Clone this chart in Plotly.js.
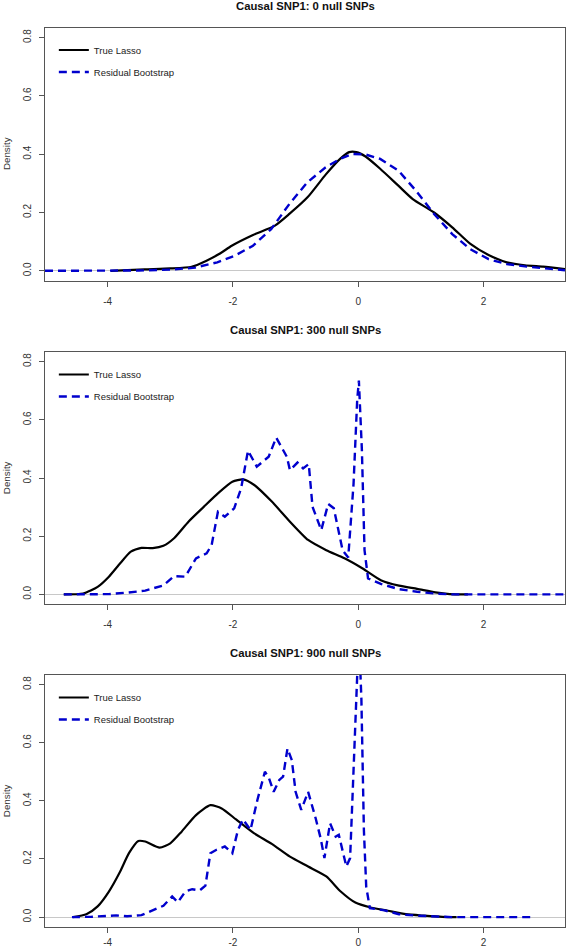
<!DOCTYPE html>
<html>
<head>
<meta charset="utf-8">
<script src="https://cdn.plot.ly/plotly-3.0.1.min.js"></script>
<style>html,body{margin:0;padding:0;background:#fff;}#chart{width:567px;height:949px;}</style>
</head>
<body>
<div id="chart"></div>
<script>
// ---------- data ----------
const panelTitles = ["Causal SNP1: 0 null SNPs", "Causal SNP1: 300 null SNPs", "Causal SNP1: 900 null SNPs"];
const seriesNames = ["True Lasso", "Residual Bootstrap"];
const xTickVals = [-4, -2, 0, 2];
const yTickVals = [0.0, 0.2, 0.4, 0.6, 0.8];

// Panel 1: 0 null SNPs
const p1TrueX = [-3.95,-3.41,-3.0,-2.66,-2.43,-2.2,-2.02,-1.68,-1.33,-1.10,-0.81,-0.52,-0.29,-0.145,-0.03,0.116,0.35,0.64,0.87,1.21,1.50,1.79,2.08,2.37,2.66,2.95,3.3];
const p1TrueY = [0.000,0.005,0.008,0.014,0.034,0.060,0.086,0.123,0.155,0.195,0.252,0.330,0.384,0.407,0.407,0.392,0.350,0.292,0.246,0.200,0.149,0.092,0.054,0.029,0.019,0.014,0.006];
const p1BootX = [-5.0,-4.0,-3.5,-3.0,-2.6,-2.25,-1.97,-1.68,-1.39,-1.10,-0.81,-0.52,-0.29,-0.09,0.116,0.35,0.64,0.92,1.21,1.50,1.79,2.08,2.37,2.66,2.95,3.3];
const p1BootY = [0.000,0.000,0.001,0.004,0.011,0.029,0.052,0.086,0.143,0.229,0.304,0.355,0.384,0.401,0.399,0.384,0.344,0.275,0.195,0.126,0.074,0.040,0.023,0.015,0.008,0.002];

// Panel 2: 300 null SNPs
const p2TrueX = [-4.7,-4.39,-4.16,-3.98,-3.80,-3.63,-3.46,-3.28,-3.11,-2.94,-2.71,-2.47,-2.24,-2.01,-1.84,-1.66,-1.38,-1.09,-0.80,-0.51,-0.22,0.07,0.36,0.65,0.94,1.23,1.46,1.75];
const p2TrueY = [0.000,0.003,0.026,0.061,0.107,0.147,0.160,0.159,0.167,0.193,0.250,0.300,0.347,0.387,0.395,0.376,0.319,0.250,0.187,0.152,0.124,0.089,0.049,0.030,0.019,0.007,0.001,0.000];
const p2BootX = [-4.7,-3.98,-3.69,-3.40,-3.11,-2.94,-2.76,-2.59,-2.42,-2.34,-2.24,-2.13,-1.98,-1.87,-1.76,-1.62,-1.43,-1.31,-1.14,-1.09,-0.97,-0.88,-0.79,-0.73,-0.59,-0.48,-0.39,-0.25,-0.16,-0.075,-0.017,0.01,0.058,0.10,0.156,0.36,0.65,0.94,1.23,1.5,3.3];
const p2BootY = [0.000,0.001,0.006,0.013,0.031,0.063,0.061,0.124,0.141,0.170,0.284,0.267,0.296,0.364,0.494,0.439,0.473,0.539,0.473,0.427,0.453,0.433,0.448,0.301,0.221,0.311,0.296,0.152,0.127,0.380,0.668,0.735,0.496,0.152,0.055,0.036,0.018,0.009,0.003,0.000,0.000];

// Panel 3: 900 null SNPs
const p3TrueX = [-4.55,-4.34,-4.16,-3.98,-3.80,-3.66,-3.51,-3.40,-3.17,-3.0,-2.82,-2.59,-2.36,-2.18,-1.95,-1.66,-1.38,-1.09,-0.80,-0.51,-0.28,-0.046,0.185,0.474,0.76,1.05,1.34,1.57];
const p3TrueY = [0.000,0.010,0.037,0.088,0.157,0.220,0.262,0.260,0.239,0.254,0.294,0.351,0.385,0.374,0.336,0.288,0.252,0.208,0.174,0.140,0.088,0.050,0.034,0.022,0.010,0.005,0.001,0.000];
const p3BootX = [-4.57,-4.27,-3.86,-3.69,-3.46,-3.28,-3.11,-2.97,-2.88,-2.76,-2.65,-2.53,-2.44,-2.36,-2.27,-2.13,-2.01,-1.92,-1.84,-1.72,-1.61,-1.49,-1.43,-1.35,-1.26,-1.20,-1.13,-1.06,-1.0,-0.91,-0.80,-0.68,-0.60,-0.54,-0.45,-0.36,-0.31,-0.19,-0.13,-0.075,-0.03,0.01,0.05,0.09,0.127,0.185,0.42,0.65,0.94,1.23,1.5,2.8];
const p3BootY = [0.000,0.001,0.006,0.003,0.007,0.023,0.039,0.071,0.051,0.088,0.096,0.092,0.108,0.220,0.231,0.243,0.220,0.300,0.336,0.300,0.403,0.500,0.481,0.431,0.472,0.483,0.580,0.540,0.431,0.369,0.431,0.340,0.271,0.203,0.323,0.277,0.283,0.174,0.203,0.506,0.850,0.980,0.750,0.300,0.105,0.031,0.023,0.010,0.005,0.002,0.000,0.000];

// ---------- layout geometry ----------
const W = 567, H = 949;
const M = {l: 45, r: 2, t: 28, b: 22};
const plotH = H - M.t - M.b;
const boxes = [[27.5, 280.7], [352, 604.3], [675, 927.3]]; // top, bottom px
const toPaper = px => (H - M.b - px) / plotH;
const xStandoff = [6, 6, 1];

const blue = '#0000CD';
const data = [];
const trueX = [p1TrueX, p2TrueX, p3TrueX], trueY = [p1TrueY, p2TrueY, p3TrueY];
const bootX = [p1BootX, p2BootX, p3BootX], bootY = [p1BootY, p2BootY, p3BootY];

const layout = {
  width: W, height: H,
  margin: M,
  paper_bgcolor: '#fff', plot_bgcolor: '#fff',
  font: {family: 'Liberation Sans, Arial, sans-serif', color: '#333', size: 10},
  annotations: [],
  showlegend: true
};

for (let i = 0; i < 3; i++) {
  const s = i === 0 ? '' : String(i + 1);
  const legName = 'legend' + s;
  data.push({
    x: trueX[i], y: trueY[i], type: 'scatter', mode: 'lines',
    name: seriesNames[0], xaxis: 'x' + s, yaxis: 'y' + s, legend: legName,
    legendgroup: 'a' + i,
    line: {color: '#000', width: 2.2, shape: 'spline', smoothing: 0.6}
  });
  data.push({
    x: bootX[i], y: bootY[i], type: 'scatter', mode: 'lines',
    name: seriesNames[1], xaxis: 'x' + s, yaxis: 'y' + s, legend: legName,
    legendgroup: 'b' + i,
    line: {color: blue, width: 2.4, dash: '8px,5px'}
  });
  const dom = [toPaper(boxes[i][1]), toPaper(boxes[i][0])];
  layout['xaxis' + s] = {
    domain: [0, 1], anchor: 'y' + s, range: [-5.0, 3.3],
    tickmode: 'array', tickvals: xTickVals, ticktext: xTickVals.map(v => String(v)),
    ticks: 'outside', ticklen: 5, tickcolor: '#555', tickwidth: 1,
    ticklabelstandoff: xStandoff[i],
    showline: true, mirror: true, linecolor: '#555', linewidth: 1,
    showgrid: false, zeroline: false,
    tickfont: {size: 10, color: '#333'}
  };
  layout['yaxis' + s] = {
    domain: dom, anchor: 'x' + s, range: [-0.034, 0.833],
    tickmode: 'array', tickvals: yTickVals, ticktext: yTickVals.map(v => v.toFixed(1)),
    tickangle: -90,
    ticks: 'outside', ticklen: 5, tickcolor: '#555', tickwidth: 1,
    ticklabelstandoff: 4,
    showline: true, mirror: true, linecolor: '#555', linewidth: 1,
    showgrid: false, zeroline: true, zerolinecolor: '#c8c8c8', zerolinewidth: 1,
    tickfont: {size: 10, color: '#333'}
  };
  layout[legName] = {
    x: 0.017, xanchor: 'left', y: dom[1] - 8 / plotH, yanchor: 'top',
    bgcolor: 'rgba(0,0,0,0)', borderwidth: 0,
    font: {size: 9.5, color: '#222'}, tracegroupgap: 3
  };
  layout.annotations.push({
    text: '<b>' + panelTitles[i] + '</b>', xref: 'paper', yref: 'paper',
    x: 0.5, y: dom[1], xanchor: 'center', yanchor: 'middle', yshift: 22,
    showarrow: false, font: {size: 11.3, color: '#111'}
  });
  layout.annotations.push({
    text: 'Density', xref: 'paper', yref: 'paper',
    x: 0, y: (dom[0] + dom[1]) / 2, xanchor: 'center', yanchor: 'middle', xshift: -39,
    textangle: -90, showarrow: false, font: {size: 9.8, color: '#333'}
  });
}

Plotly.newPlot('chart', data, layout, {displayModeBar: false, staticPlot: true});
</script>
</body>
</html>
